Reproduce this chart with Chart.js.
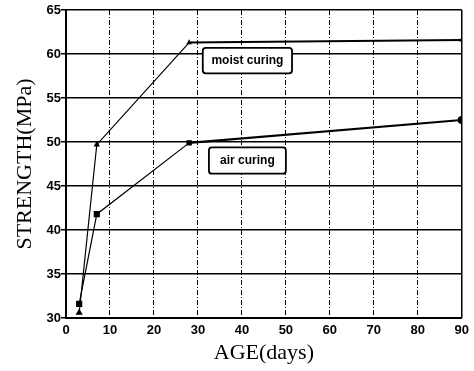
<!DOCTYPE html>
<html>
<head>
<meta charset="utf-8">
<script src="https://cdn.jsdelivr.net/npm/chart.js@4/dist/chart.umd.min.js"></script>
<style>
  html, body { margin: 0; padding: 0; background: #fff; }
  #wrap { width: 474px; height: 371px; }
</style>
</head>
<body>
<div id="wrap"><canvas id="jsChart" width="474" height="371"></canvas></div>
<script>
// Data luettu kuvasta
const ageDays = [3, 7, 28, 90];
const moistCuring = [30.6, 49.7, 61.3, 61.6];
const airCuring = [31.6, 41.8, 49.9, 52.5];
const seriesLabels = ['moist curing', 'air curing'];
const xTitle = 'AGE(days)';
const yTitle = 'STRENGTH(MPa)';

const toPoints = (vals) => ageDays.map((d, i) => ({ x: d, y: vals[i] }));

// Tekstilaatikot sarjojen nimille (data-koordinaateissa)
const boxPlugin = {
  id: 'boxes',
  afterDatasetsDraw(chart) {
    const { ctx, scales: { x, y }, chartArea } = chart;
    // kehys oikealle puolelle
    ctx.save();
    ctx.strokeStyle = '#000';
    ctx.lineWidth = 1.5;
    ctx.beginPath();
    ctx.moveTo(chartArea.right, chartArea.top);
    ctx.lineTo(chartArea.right, chartArea.bottom);
    ctx.stroke();

    const boxes = [
      { text: seriesLabels[0], x0: 31.1, x1: 51.4, y0: 60.7, y1: 57.8 },
      { text: seriesLabels[1], x0: 32.5, x1: 50.0, y0: 49.4, y1: 46.4 },
    ];
    boxes.forEach((b) => {
      const left = x.getPixelForValue(b.x0);
      const right = x.getPixelForValue(b.x1);
      const top = y.getPixelForValue(b.y0);
      const bottom = y.getPixelForValue(b.y1);
      ctx.beginPath();
      ctx.roundRect(left, top, right - left, bottom - top, 3);
      ctx.fillStyle = '#fff';
      ctx.fill();
      ctx.lineWidth = 1.8;
      ctx.strokeStyle = '#000';
      ctx.stroke();
      ctx.fillStyle = '#000';
      ctx.font = 'bold 12px "Liberation Sans", Arial, sans-serif';
      ctx.textAlign = 'center';
      ctx.textBaseline = 'middle';
      ctx.fillText(b.text, (left + right) / 2, (top + bottom) / 2);
    });
    ctx.restore();
  },
};

const ctx = document.getElementById('jsChart');

new Chart(ctx, {
  type: 'scatter',
  data: {
    datasets: [
      {
        label: seriesLabels[0],
        data: toPoints(moistCuring),
        showLine: true,
        borderColor: '#000',
        backgroundColor: '#000',
        pointStyle: 'triangle',
        pointRadius: [3, 2.5, 2, 2],
        borderWidth: 1.2,
        segment: {
          borderWidth: (c) => (c.p0DataIndex >= 2 ? 2 : 1.2),
        },
      },
      {
        label: seriesLabels[1],
        data: toPoints(airCuring),
        showLine: true,
        borderColor: '#000',
        backgroundColor: '#000',
        pointStyle: ['rect', 'rect', 'rect', 'circle'],
        pointRadius: [3.5, 3.5, 3, 3.5],
        borderWidth: 1.2,
        segment: {
          borderWidth: (c) => (c.p0DataIndex >= 2 ? 2.2 : 1.2),
        },
      },
    ],
  },
  options: {
    responsive: false,
    animation: false,
    layout: { padding: { left: 0, right: 12, top: 10, bottom: 0 } },
    plugins: {
      legend: { display: false },
      tooltip: { enabled: false },
    },
    scales: {
      x: {
        type: 'linear',
        min: 0,
        max: 90,
        afterFit: (s) => { s.height = 53; },
        ticks: {
          stepSize: 10,
          color: '#000',
          padding: 5,
          font: { family: '"Liberation Sans", Arial, sans-serif', size: 13, weight: 'bold' },
        },
        grid: {
          color: '#000',
          lineWidth: 1,
          drawTicks: false,
        },
        border: { display: true, color: '#000', width: 2, dash: [5, 2, 1, 2] },
        title: {
          display: true,
          text: xTitle,
          color: '#000',
          padding: { top: 0, bottom: 5 },
          font: { family: '"Liberation Serif", "Times New Roman", serif', size: 22 },
        },
      },
      y: {
        min: 30,
        max: 65,
        afterFit: (s) => { s.width = 66; },
        ticks: {
          stepSize: 5,
          color: '#000',
          padding: 0,
          font: { family: '"Liberation Sans", Arial, sans-serif', size: 13, weight: 'bold' },
        },
        grid: {
          color: '#000',
          lineWidth: 1.5,
          drawTicks: true,
          tickLength: 5,
        },
        border: { display: true, color: '#000', width: 2 },
        title: {
          display: true,
          text: yTitle,
          color: '#000',
          padding: { top: 12, bottom: 0 },
          font: { family: '"Liberation Serif", "Times New Roman", serif', size: 22 },
        },
      },
    },
  },
  plugins: [boxPlugin],
});
</script>
</body>
</html>
